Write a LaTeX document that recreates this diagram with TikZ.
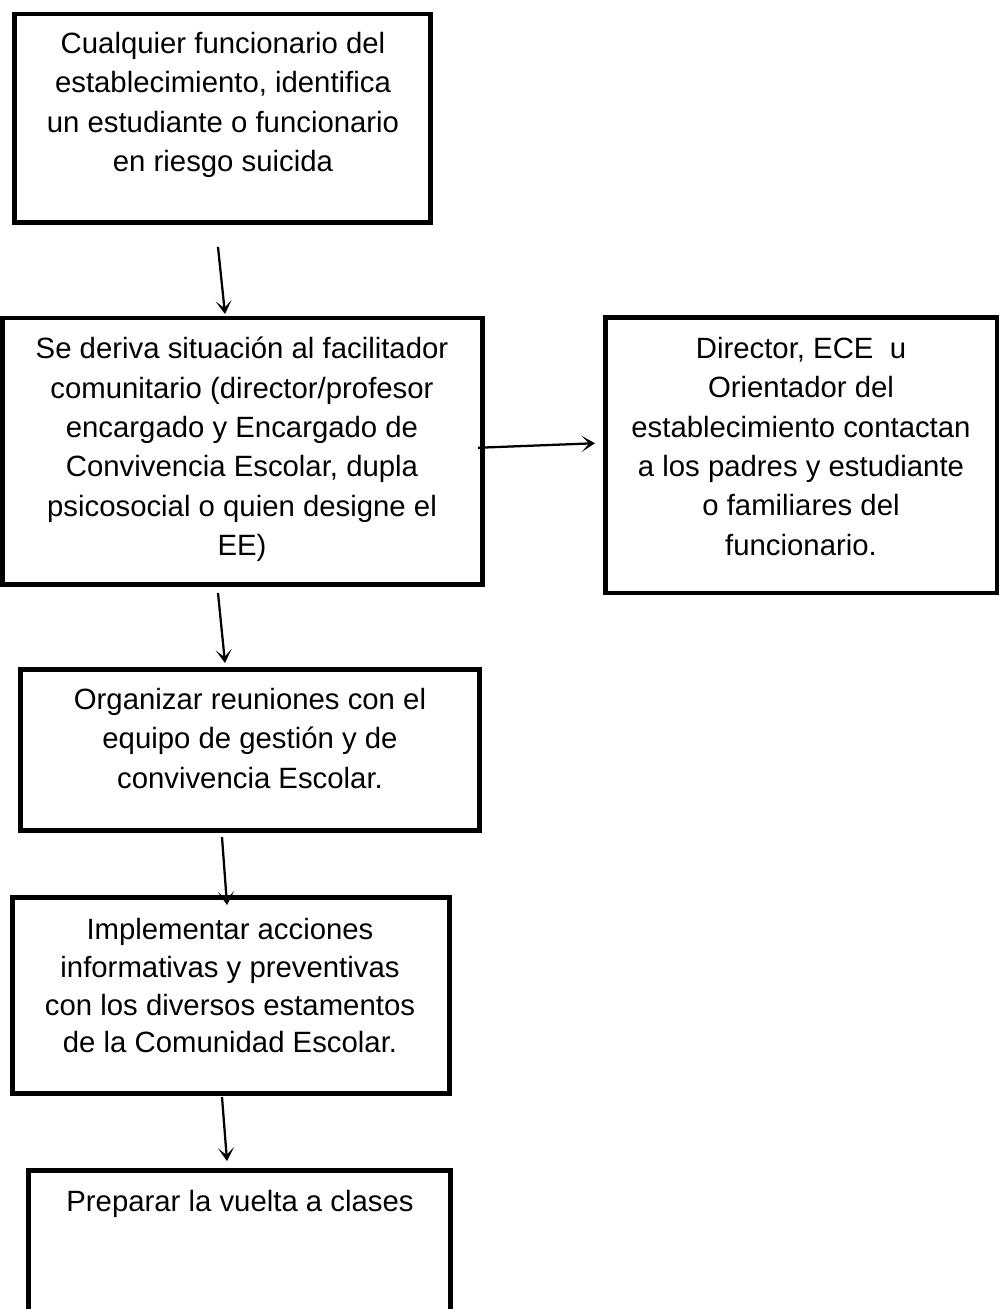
\documentclass[tikz,border=0pt]{standalone}
\usepackage{fontspec}
\setmainfont{Liberation Sans}
\usetikzlibrary{arrows.meta,calc}
\begin{document}
\begin{tikzpicture}[x=0.75pt,y=-0.75pt,
  boxstyle/.style={draw=black,line width=3.4pt,rectangle,inner sep=0pt,outer sep=0pt,anchor=north west},
  txtstyle/.style={inner sep=0pt,anchor=north,align=center,font=\fontsize{22}{29.5}\selectfont},
  arrowstyle/.style={line width=1.7pt,-{Stealth[length=10pt,width=12pt,inset=5.5pt]}}]
\useasboundingbox (0,0) rectangle (1002,1309);
\clip (0,0) rectangle (1002,1309);
\fill[white] (0,0) rectangle (1002,1309);
% boxes
\node[boxstyle,minimum width=416*0.75pt,minimum height=208.5*0.75pt] (b1) at (14.5,14) {};
\node[boxstyle,minimum width=480*0.75pt,minimum height=266.5*0.75pt] (b2) at (2.5,318) {};
\node[boxstyle,minimum width=391.5*0.75pt,minimum height=275.5*0.75pt] (b3) at (605.5,317.5) {};
\node[boxstyle,minimum width=459*0.75pt,minimum height=161*0.75pt] (b4) at (20.5,669.5) {};
\node[boxstyle,minimum width=437*0.75pt,minimum height=196*0.75pt] (b5) at (12.5,897.5) {};
\node[boxstyle,minimum width=422*0.75pt,minimum height=200*0.75pt] (b6) at (28.5,1170.5) {};
% texts
\node[txtstyle] (t1) at (223,32) {Cualquier funcionario del\\establecimiento, identifica\\un estudiante o funcionario\\en riesgo suicida};
\node[txtstyle] (t2) at (242,337) {Se deriva situación al facilitador\\comunitario (director/profesor\\encargado y Encargado de\\Convivencia Escolar, dupla\\psicosocial o quien designe el\\EE)};
\node[txtstyle] (t3) at (801,337) {Director, ECE\ \ u\\Orientador del\\establecimiento contactan\\a los padres y estudiante\\o familiares del\\funcionario.};
\node[txtstyle] (t4) at (250,688) {Organizar reuniones con el\\equipo de gestión y de\\convivencia Escolar.};
\node[txtstyle,font=\fontsize{22}{28.3}\selectfont] (t5) at (230,918) {Implementar acciones\\informativas y preventivas\\con los diversos estamentos\\de la Comunidad Escolar.};
\node[txtstyle] (t6) at (240,1190) {Preparar la vuelta a clases};
% arrows
\draw[arrowstyle] ($(b1.south)+(-4.5,24.5)$) -- ($(b2.north)+(-17.5,-4)$);
\draw[arrowstyle] ($(b2.east)+(-4.5,-3.5)$) -- ($(b3.west)+(-10.5,-12)$);
\draw[arrowstyle] ($(b2.south)+(-24.5,8.5)$) -- ($(b4.north)+(-25,-6.5)$);
\draw[arrowstyle] ($(b4.south)+(-28,6.5)$) -- ($(b5.north)+(-4,7.5)$);
\draw[arrowstyle] ($(b5.south)+(-9,3.5)$) -- ($(b6.north)+(-12.5,-9.5)$);
\end{tikzpicture}
\end{document}
